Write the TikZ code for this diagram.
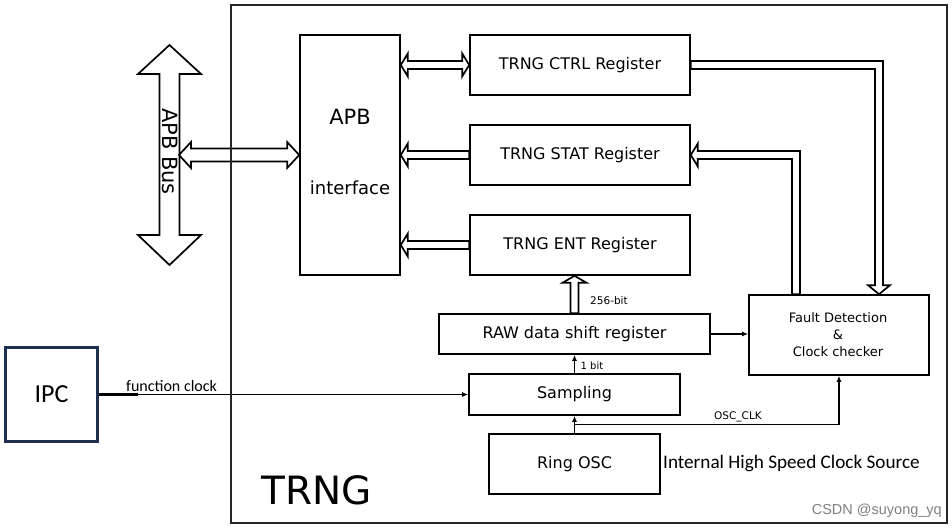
\documentclass[tikz,border=0pt]{standalone}
\usepackage{fontspec}
\setmainfont{DejaVu Sans}
\newfontfamily\carlito{Carlito}
\newfontfamily\arialf{Liberation Sans}
\usetikzlibrary{calc,arrows.meta}
\definecolor{ipcblue}{HTML}{1F2F4F}
\newcommand\fs[1]{\fontsize{#1}{#1}\selectfont}
% horizontal arrow with heads at both ends: left tip, right tip, head length, head half, shaft half
\newcommand\hdouble[5]{%
 \draw[fat] (#1) -- ($(#1)+(#3,-#4)$) -- ($(#1)+(#3,-#5)$) -- ($(#2)+(-#3,-#5)$) -- ($(#2)+(-#3,-#4)$) -- (#2)
  -- ($(#2)+(-#3,#4)$) -- ($(#2)+(-#3,#5)$) -- ($(#1)+(#3,#5)$) -- ($(#1)+(#3,#4)$) -- cycle;}
% horizontal arrow pointing left: tip, tail, head length, head half, shaft half
\newcommand\hleft[5]{%
 \draw[fat] (#1) -- ($(#1)+(#3,-#4)$) -- ($(#1)+(#3,-#5)$) -- ($(#2)+(0,-#5)$) -- ($(#2)+(0,#5)$)
  -- ($(#1)+(#3,#5)$) -- ($(#1)+(#3,#4)$) -- cycle;}
\begin{document}
\begin{tikzpicture}[x=1pt,y=-1pt,
  box/.style={draw, line width=1.6pt, inner sep=0pt, align=center},
  fat/.style={draw, fill=white, line width=1.7pt, line join=miter},
  thinarrow/.style={line width=1.4pt, -{Latex[length=6pt,width=5pt]}},
  lbl/.style={inner sep=0pt}]
\useasboundingbox (0,0) rectangle (952,529);
\fill[white] (0,0) rectangle (952,529);

% outer TRNG block (border drawn last)
\node[inner sep=0pt, minimum width=716, minimum height=518] (trng) at (589,264) {};
\node[lbl, font=\fs{39}] (trngt) at (317,490) {TRNG};

% blocks
\node[box, minimum width=100, minimum height=240] (apb) at (350,155) {};
\node[lbl, font=\fs{21}] (apbt) at (350,117) {APB};
\node[lbl, font=\fs{18}] (apbi) at (350,188) {interface};

\node[box, minimum width=220, minimum height=60, font=\fs{16}] (ctrl) at (580,65) {TRNG CTRL Register};
\node[box, minimum width=220, minimum height=60, font=\fs{16}] (stat) at (580,155) {TRNG STAT Register};
\node[box, minimum width=220, minimum height=60, font=\fs{16}] (ent) at (580,245) {TRNG ENT Register};
\node[box, minimum width=271, minimum height=40, font=\fs{16}] (raw) at (574.5,334) {RAW data shift register};
\node[box, minimum width=211, minimum height=41, font=\fs{16}] (samp) at (574.5,394.5) {Sampling};
\node[box, minimum width=171, minimum height=60, font=\fs{16}] (osc) at (574.5,464) {Ring OSC};
\node[box, minimum width=180, minimum height=80] (fault) at (839,335) {};
\node[lbl, align=center, font=\fontsize{13}{17}\selectfont] (faultt) at (838,335) {Fault Detection\\\&\\Clock checker};
\node[draw=ipcblue, line width=2.8pt, inner sep=0pt, minimum width=92, minimum height=94,
      font=\carlito\fs{26}] (ipc) at (51.5,394.5) {IPC};

\node[lbl, anchor=west, font=\carlito\fs{19.2}] (hsc) at (663,463) {Internal High Speed Clock Source};

% APB bus double arrow
\coordinate (bus) at (169.5,155);
\draw[fat] ($(bus)+(0,-110)$) -- ($(bus)+(31.5,-81)$) -- ($(bus)+(10,-81)$) -- ($(bus)+(10,80)$)
  -- ($(bus)+(31.5,80)$) -- ($(bus)+(0,110)$) -- ($(bus)+(-31.5,80)$) -- ($(bus)+(-10,80)$)
  -- ($(bus)+(-10,-81)$) -- ($(bus)+(-31.5,-81)$) -- cycle;
\coordinate (busr) at ($(bus)+(9.5,0)$);
\hdouble{busr}{apb.west}{12}{13}{6.5}
\node[lbl, rotate=-90, font=\fs{21}] (bust) at (170,151.5) {APB Bus};

% register <-> APB arrows
\hdouble{apb.east|-ctrl.west}{ctrl.west}{7}{11.5}{4}
\hleft{apb.east|-stat.west}{stat.west}{7}{11.5}{4}
\hleft{apb.east|-ent.west}{ent.west}{7}{11.5}{4}

% RAW -> ENT (256-bit)
\coordinate (rt) at (raw.north|-ent.south);
\draw[fat] (rt) -- ($(rt)+(12,7)$) -- ($(rt)+(4,7)$) -- ($(raw.north)+(4,0)$) -- ($(raw.north)+(-4,0)$)
  -- ($(rt)+(-4,7)$) -- ($(rt)+(-12,7)$) -- cycle;
\node[lbl, font=\fs{10.5}] (l256) at (609,301) {256-bit};

% CTRL -> Fault
\coordinate (c1) at ($(fault.north)+(40,0)$);
\draw[fat] ($(ctrl.east)+(0,-4)$) -- ($(c1|-ctrl.east)+(4,-4)$) -- ($(c1)+(4,-9)$) -- ($(c1)+(11,-9)$)
  -- (c1) -- ($(c1)+(-11,-9)$) -- ($(c1)+(-4,-9)$) -- ($(c1|-ctrl.east)+(-4,4)$) -- ($(ctrl.east)+(0,4)$) -- cycle;

% Fault -> STAT
\coordinate (c2) at ($(fault.north)+(-43,0)$);
\draw[fat] (stat.east) -- ($(stat.east)+(7,-11.5)$) -- ($(stat.east)+(7,-4)$) -- ($(c2|-stat.east)+(4,-4)$)
  -- ($(c2)+(4,0)$) -- ($(c2)+(-4,0)$) -- ($(c2|-stat.east)+(-4,4)$) -- ($(stat.east)+(7,4)$)
  -- ($(stat.east)+(7,11.5)$) -- cycle;

% thin connectors
\draw[thinarrow] (raw.east) -- (raw.east-|fault.west);
\draw[thinarrow] (samp.north) -- (raw.south);
\node[lbl, font=\fs{10}] (l1) at (592,366) {1 bit};
\draw[thinarrow] (osc.north) -- (samp.south);
\coordinate (br) at ($(osc.north)!0.5!(samp.south)$);
\draw[thinarrow] (br) -| (fault.south);
\node[lbl, font=\fs{10.5}] (losc) at (738,417) {OSC\_CLK};

\draw[thinarrow] (ipc.east|-samp.west) -- (samp.west);
\draw[line width=2.6pt] (ipc.east|-samp.west) -- ++(39,0);
\node[lbl, anchor=west, font=\carlito\fs{16}] (lfc) at (126,386) {function clock};

% TRNG border on top
\draw[line width=1.8pt, black!85] (trng.north west) rectangle (trng.south east);

\node[lbl, anchor=east, text=black!50, font=\arialf\fs{14.5}] (wm) at (942,511) {CSDN @suyong\_yq};
\end{tikzpicture}
\end{document}
